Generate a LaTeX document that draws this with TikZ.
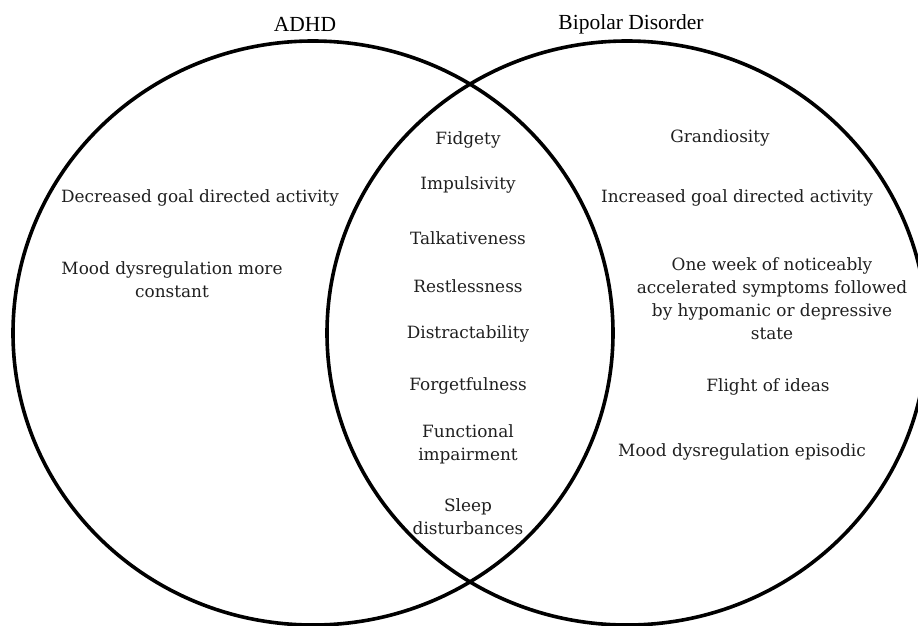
\documentclass[tikz,border=0pt]{standalone}
\usepackage{fontspec}
\setmainfont{DejaVu Serif}
\newfontfamily\titlefont{Liberation Serif}
\begin{document}
\begin{tikzpicture}[x=1pt,y=-1pt,
  venn/.style={line width=3.6pt, draw=black},
  lbl/.style={align=center, inner sep=0pt, font=\fontsize{16.9}{23}\selectfont, text=black!88},
  ttl/.style={align=center, inner sep=0pt, font=\titlefont\fontsize{21.5}{23}\selectfont}]
\useasboundingbox (0,0) rectangle (918,626);
\begin{scope}
\clip (0,0) rectangle (918,626);
\draw[venn] (313,333) ellipse [x radius=300, y radius=292];
\draw[venn] (627,333) ellipse [x radius=300, y radius=292];
\end{scope}
% titles
\node[ttl] (tadhd) at (305,24) {ADHD};
\node[ttl] (tbip) at (631,24) {Bipolar Disorder};
% left
\node[lbl] (l1) at (200,198) {Decreased goal directed activity};
\node[lbl] (l2) at (172,280) {Mood dysregulation more\\constant};
% middle
\node[lbl] (m1) at (468,140) {Fidgety};
\node[lbl] (m2) at (468,185) {Impulsivity};
\node[lbl] (m3) at (468,238) {Talkativeness};
\node[lbl] (m4) at (468,286) {Restlessness};
\node[lbl] (m5) at (468,334) {Distractability};
\node[lbl] (m6) at (468,386) {Forgetfulness};
\node[lbl] (m7) at (468,444) {Functional\\impairment};
\node[lbl] (m8) at (468,517) {Sleep\\disturbances};
% right
\node[lbl] (r1) at (720,138) {Grandiosity};
\node[lbl] (r2) at (737,198) {Increased goal directed activity};
\node[lbl] (r3) at (772,299) {One week of noticeably\\accelerated symptoms followed\\by hypomanic or depressive\\state};
\node[lbl] (r4) at (768,387) {Flight of ideas};
\node[lbl] (r5) at (742,452) {Mood dysregulation episodic};
\end{tikzpicture}
\end{document}
